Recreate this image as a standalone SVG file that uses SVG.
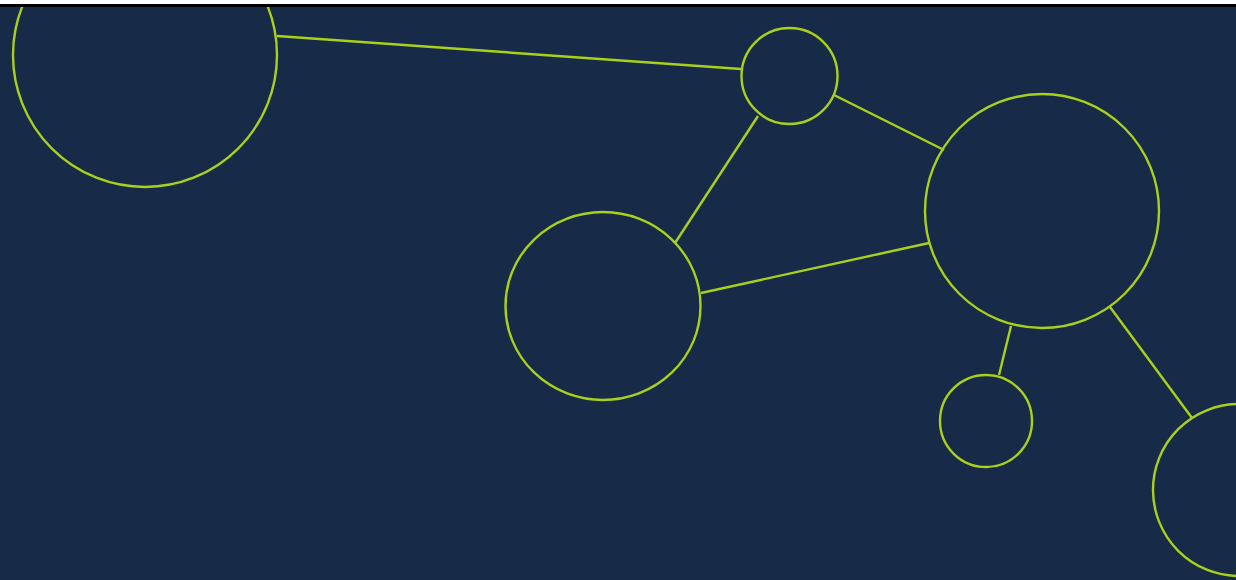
<svg xmlns="http://www.w3.org/2000/svg" width="1236" height="580" viewBox="0 0 1236 580">
<style>
.n{fill:none;stroke:#a9d11a;stroke-width:2.4}
.e{stroke:#a9d11a;stroke-width:2.4;fill:none}
</style>
<rect x="0" y="0" width="1236" height="580" fill="#172a48"/>
<g id="connectors">
<line class="e" x1="277" y1="36" x2="741" y2="69"/>
<line class="e" x1="758" y1="116" x2="675" y2="243"/>
<line class="e" x1="834" y1="95" x2="944" y2="150"/>
<line class="e" x1="701" y1="293" x2="929" y2="243"/>
<line class="e" x1="1011" y1="326" x2="999" y2="375"/>
<line class="e" x1="1110" y1="307" x2="1192" y2="418"/>
</g>
<g id="node1"><circle class="n" cx="145" cy="55" r="132"/></g>
<g id="node2"><circle class="n" cx="789.5" cy="76" r="48"/></g>
<g id="node3"><ellipse class="n" cx="603" cy="306" rx="97.5" ry="94"/></g>
<g id="node4"><circle class="n" cx="1042" cy="211" r="117"/></g>
<g id="node5"><circle class="n" cx="986" cy="421" r="46"/></g>
<g id="node6"><circle class="n" cx="1239" cy="490" r="86"/></g>
<rect x="0" y="0" width="1236" height="4" fill="#ffffff"/>
<rect x="0" y="4" width="1236" height="3" fill="#000000"/>
</svg>
